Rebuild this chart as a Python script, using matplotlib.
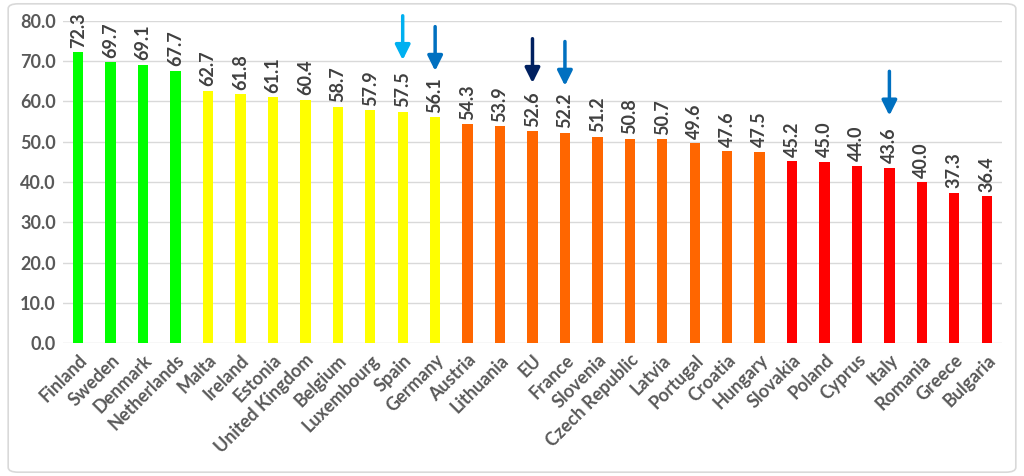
import matplotlib.pyplot as plt
from matplotlib.patches import FancyBboxPatch

countries = ["Finland", "Sweden", "Denmark", "Netherlands", "Malta", "Ireland", "Estonia",
             "United Kingdom", "Belgium", "Luxembourg", "Spain", "Germany", "Austria",
             "Lithuania", "EU", "France", "Slovenia", "Czech Republic", "Latvia", "Portugal",
             "Croatia", "Hungary", "Slovakia", "Poland", "Cyprus", "Italy", "Romania",
             "Greece", "Bulgaria"]
values = [72.3, 69.7, 69.1, 67.7, 62.7, 61.8, 61.1, 60.4, 58.7, 57.9, 57.5, 56.1, 54.3,
          53.9, 52.6, 52.2, 51.2, 50.8, 50.7, 49.6, 47.6, 47.5, 45.2, 45.0, 44.0, 43.6,
          40.0, 37.3, 36.4]
groups = ["green"] * 4 + ["yellow"] * 8 + ["orange"] * 10 + ["red"] * 7
# countries marked with an arrow
marked = ["Spain", "Germany", "EU", "France", "Italy"]

group_colors = {"green": "#00FF00", "yellow": "#FFFF00", "orange": "#FF6600", "red": "#FF0000"}
arrow_colors = {"Spain": "#00B0F0", "Germany": "#0070C0", "EU": "#002060",
                "France": "#0070C0", "Italy": "#0070C0"}
arrow_gap = {"Spain": 12.8, "Germany": 11.5, "EU": 12.0, "France": 11.7, "Italy": 12.9}

plt.rcParams['font.family'] = ['Lato', 'DejaVu Sans']

fig = plt.figure(figsize=(10.24, 4.76), dpi=100)
ax = fig.add_axes([0.0615, 0.2794, 0.917, 0.6765])

x = list(range(len(countries)))
ax.bar(x, values, width=0.32, color=[group_colors[g] for g in groups], zorder=3)

for i, v in enumerate(values):
    ax.text(i, v + 1.1, f"{v:.1f}", rotation=90, ha="center", va="bottom",
            fontsize=13, fontweight="bold", color="#404040", clip_on=False)

for name in marked:
    i = countries.index(name)
    tip = values[i] + arrow_gap[name]
    ax.annotate("", xy=(i, tip), xytext=(i, tip + 11),
                arrowprops=dict(arrowstyle="-|>,head_width=0.45,head_length=0.9",
                                color=arrow_colors[name], lw=2.5,
                                shrinkA=0, shrinkB=0),
                annotation_clip=False)

ax.set_xlim(-0.47, len(countries) - 0.53)
ax.set_ylim(0, 80)
ax.set_yticks(range(0, 81, 10))
ax.set_yticklabels([f"{t:.1f}" for t in range(0, 81, 10)])
ax.set_xticks(x)
ax.set_xticklabels(countries, rotation=45, ha="right", rotation_mode="anchor")
ax.tick_params(axis="both", length=0, labelsize=13, labelcolor="#595959")
ax.tick_params(axis="x", pad=6)
ax.tick_params(axis="y", pad=5)
for lbl in ax.get_xticklabels() + ax.get_yticklabels():
    lbl.set_fontweight("bold")
ax.grid(axis="y", color="#D9D9D9", lw=1, zorder=0)
for s in ax.spines.values():
    s.set_visible(False)

border = FancyBboxPatch((0.008, 0.008), 0.984, 0.984, boxstyle="round,pad=0,rounding_size=0.01",
                        transform=fig.transFigure, fill=False, edgecolor="#D9D9D9", lw=1.2)
fig.patches.append(border)

fig.savefig("out.png", dpi=100)
